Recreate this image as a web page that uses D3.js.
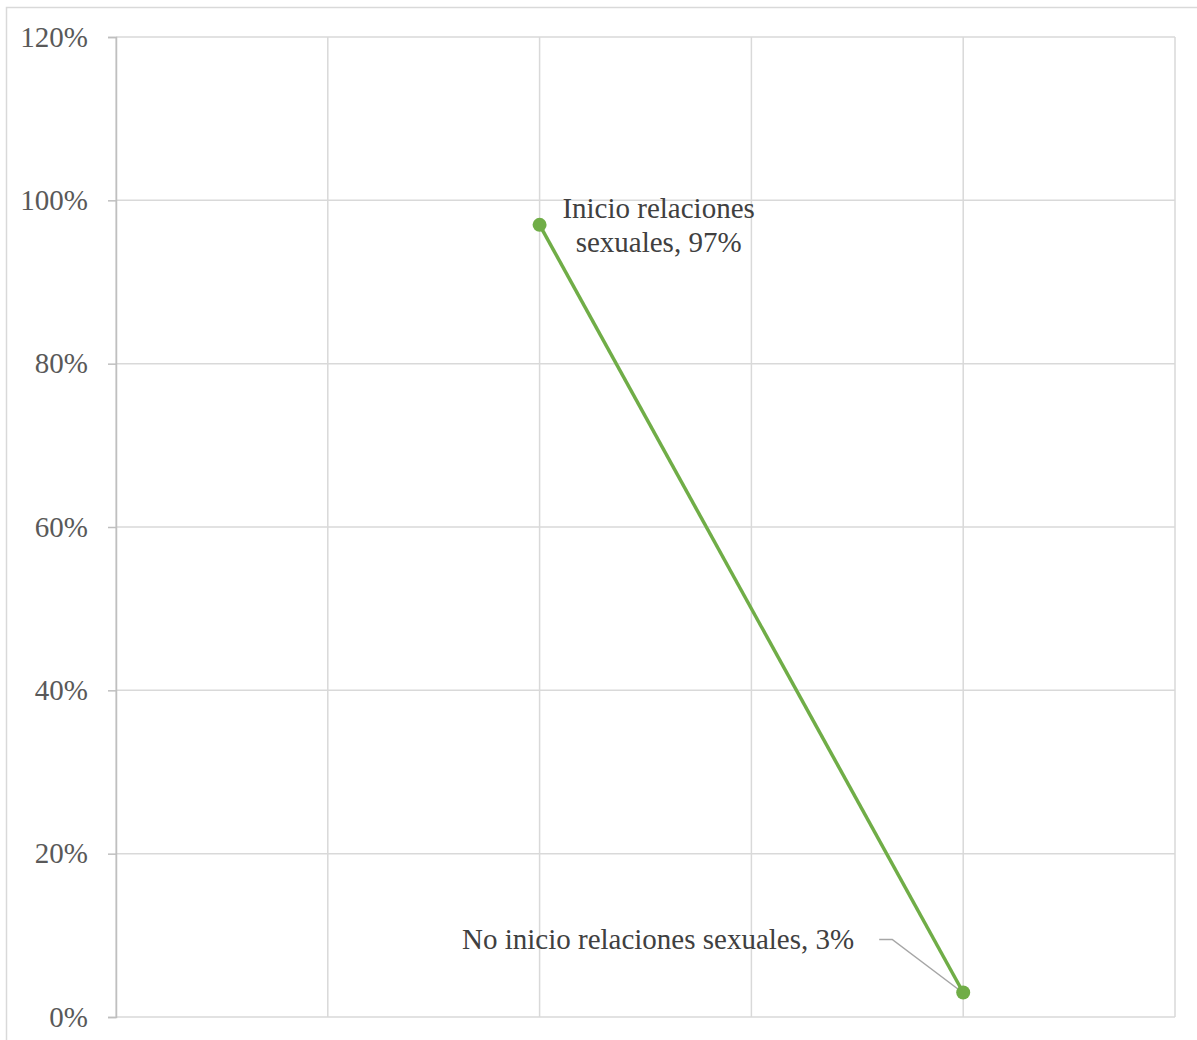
<!DOCTYPE html>
<html>
<head>
<meta charset="utf-8">
<script src="https://cdn.jsdelivr.net/npm/d3@7"></script>
<style>
  html, body { margin: 0; padding: 0; background: #fff; }
  svg { display: block; }
</style>
</head>
<body>
<svg id="chart" width="1197" height="1040"></svg>
<script>
// Series: share of respondents by sexual initiation status
const categories = ["Inicio relaciones sexuales", "No inicio relaciones sexuales"];
const positions = [2, 4];
const values = [0.97, 0.03];
const yTicks = [0, 0.2, 0.4, 0.6, 0.8, 1.0, 1.2];
const xTicks = [0, 1, 2, 3, 4, 5];

(function () {
const svg = d3.select("#chart");
const W = 1197, H = 1040;
const plotLeft = 116, plotRight = 1175, plotTop = 37, plotBottom = 1017;

const x = d3.scaleLinear().domain([0, 5]).range([plotLeft, plotRight]);
const y = d3.scaleLinear().domain([0, 1.2]).range([plotBottom, plotTop]);

const font = "'Liberation Serif', 'Times New Roman', serif";
const gridColor = "#d9d9d9";

// chart outer border
svg.append("rect")
  .attr("x", 6.5).attr("y", 7.5)
  .attr("width", W + 10).attr("height", H + 10)
  .attr("fill", "none").attr("stroke", gridColor).attr("stroke-width", 1.5);

// horizontal gridlines
svg.append("g")
  .selectAll("line").data(yTicks).join("line")
  .attr("x1", plotLeft).attr("x2", plotRight)
  .attr("y1", d => y(d)).attr("y2", d => y(d))
  .attr("stroke", gridColor).attr("stroke-width", 1.5);

// vertical gridlines
svg.append("g")
  .selectAll("line").data(xTicks).join("line")
  .attr("x1", d => x(d)).attr("x2", d => x(d))
  .attr("y1", plotTop).attr("y2", plotBottom)
  .attr("stroke", gridColor).attr("stroke-width", 1.5);

// y axis with outward ticks
const yAxis = d3.axisLeft(y)
  .tickValues(yTicks)
  .tickFormat(d3.format(".0%"))
  .tickSize(8)
  .tickPadding(20);

const gy = svg.append("g")
  .attr("transform", `translate(${plotLeft},0)`)
  .call(yAxis);
gy.select(".domain").attr("stroke", "#bfbfbf").attr("stroke-width", 1.5);
gy.selectAll(".tick line").attr("stroke", "#bfbfbf").attr("stroke-width", 1.5);
gy.selectAll(".tick text")
  .attr("fill", "#595959")
  .style("font-family", font)
  .style("font-size", "29px");

const pts = values.map((v, i) => ({ x: positions[i], y: v, name: categories[i] }));

// series line
svg.append("path")
  .datum(pts)
  .attr("fill", "none")
  .attr("stroke", "#70AD47")
  .attr("stroke-width", 3.5)
  .attr("d", d3.line().x(d => x(d.x)).y(d => y(d.y)));

// leader line for the lower label
const p2 = pts[1];
svg.append("polyline")
  .attr("points", `${x(p2.x) - 84},${y(p2.y) - 53} ${x(p2.x) - 71},${y(p2.y) - 53} ${x(p2.x) - 2},${y(p2.y) - 1}`)
  .attr("fill", "none")
  .attr("stroke", "#a6a6a6")
  .attr("stroke-width", 1.5);

// markers
svg.append("g")
  .selectAll("circle").data(pts).join("circle")
  .attr("cx", d => x(d.x)).attr("cy", d => y(d.y))
  .attr("r", 7)
  .attr("fill", "#70AD47");

// data labels
const pct = d3.format(".0%");
const lbl = svg.append("g")
  .style("font-family", font)
  .style("font-size", "29px")
  .attr("fill", "#404040");

const p1 = pts[0];
const cx1 = x(p1.x) + 119;
const t1 = lbl.append("text")
  .attr("text-anchor", "middle")
  .attr("x", cx1)
  .attr("y", y(p1.y) - 7);
t1.append("tspan").attr("x", cx1).text("Inicio relaciones");
t1.append("tspan").attr("x", cx1).attr("dy", 34).text(`sexuales, ${pct(p1.y)}`);

lbl.append("text")
  .attr("text-anchor", "end")
  .attr("x", x(p2.x) - 109)
  .attr("y", y(p2.y) - 44)
  .text(`${p2.name}, ${pct(p2.y)}`);
})();
</script>
</body>
</html>
